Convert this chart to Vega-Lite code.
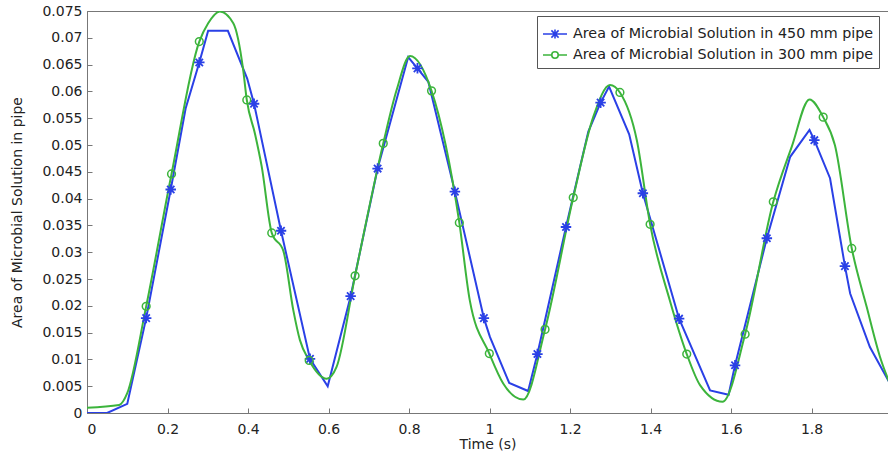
{
  "$schema": "https://vega.github.io/schema/vega-lite/v6.json",
  "width": 801,
  "height": 402,
  "autosize": {"type": "none"},
  "padding": {"left": 87, "top": 11, "right": 0, "bottom": 40},
  "background": "white",
  "config": {
    "view": {"stroke": "#777", "strokeWidth": 1},
    "font": "DejaVu Sans",
    "axis": {"labelFont": "DejaVu Sans", "titleFont": "DejaVu Sans", "labelFontSize": 14, "titleFontSize": 14, "titleFontWeight": "normal", "labelColor": "#222", "titleColor": "#222", "domainColor": "#777", "tickColor": "#777", "grid": false}
  },
  "datasets": {"curves": [
    {"s": "Area of Microbial Solution in 450 mm pipe", "t": 0, "v": 0, "m": false},
    {"s": "Area of Microbial Solution in 450 mm pipe", "t": 0.05, "v": 0, "m": false},
    {"s": "Area of Microbial Solution in 450 mm pipe", "t": 0.1, "v": 0.0017, "m": false},
    {"s": "Area of Microbial Solution in 450 mm pipe", "t": 0.147, "v": 0.0177, "m": true},
    {"s": "Area of Microbial Solution in 450 mm pipe", "t": 0.208, "v": 0.0417, "m": true},
    {"s": "Area of Microbial Solution in 450 mm pipe", "t": 0.245, "v": 0.0568, "m": false},
    {"s": "Area of Microbial Solution in 450 mm pipe", "t": 0.279, "v": 0.0654, "m": true},
    {"s": "Area of Microbial Solution in 450 mm pipe", "t": 0.301, "v": 0.0713, "m": false},
    {"s": "Area of Microbial Solution in 450 mm pipe", "t": 0.35, "v": 0.0713, "m": false},
    {"s": "Area of Microbial Solution in 450 mm pipe", "t": 0.398, "v": 0.0624, "m": false},
    {"s": "Area of Microbial Solution in 450 mm pipe", "t": 0.415, "v": 0.0577, "m": true},
    {"s": "Area of Microbial Solution in 450 mm pipe", "t": 0.482, "v": 0.034, "m": true},
    {"s": "Area of Microbial Solution in 450 mm pipe", "t": 0.554, "v": 0.0101, "m": true},
    {"s": "Area of Microbial Solution in 450 mm pipe", "t": 0.598, "v": 0.005, "m": false},
    {"s": "Area of Microbial Solution in 450 mm pipe", "t": 0.655, "v": 0.0218, "m": true},
    {"s": "Area of Microbial Solution in 450 mm pipe", "t": 0.722, "v": 0.0456, "m": true},
    {"s": "Area of Microbial Solution in 450 mm pipe", "t": 0.798, "v": 0.0664, "m": false},
    {"s": "Area of Microbial Solution in 450 mm pipe", "t": 0.821, "v": 0.0643, "m": true},
    {"s": "Area of Microbial Solution in 450 mm pipe", "t": 0.848, "v": 0.0618, "m": false},
    {"s": "Area of Microbial Solution in 450 mm pipe", "t": 0.914, "v": 0.0413, "m": true},
    {"s": "Area of Microbial Solution in 450 mm pipe", "t": 0.986, "v": 0.0177, "m": true},
    {"s": "Area of Microbial Solution in 450 mm pipe", "t": 1.001, "v": 0.0142, "m": false},
    {"s": "Area of Microbial Solution in 450 mm pipe", "t": 1.049, "v": 0.0056, "m": false},
    {"s": "Area of Microbial Solution in 450 mm pipe", "t": 1.096, "v": 0.0041, "m": false},
    {"s": "Area of Microbial Solution in 450 mm pipe", "t": 1.119, "v": 0.011, "m": true},
    {"s": "Area of Microbial Solution in 450 mm pipe", "t": 1.19, "v": 0.0347, "m": true},
    {"s": "Area of Microbial Solution in 450 mm pipe", "t": 1.2455, "v": 0.0525, "m": false},
    {"s": "Area of Microbial Solution in 450 mm pipe", "t": 1.276, "v": 0.0579, "m": true},
    {"s": "Area of Microbial Solution in 450 mm pipe", "t": 1.297, "v": 0.0609, "m": false},
    {"s": "Area of Microbial Solution in 450 mm pipe", "t": 1.347, "v": 0.052, "m": false},
    {"s": "Area of Microbial Solution in 450 mm pipe", "t": 1.381, "v": 0.041, "m": true},
    {"s": "Area of Microbial Solution in 450 mm pipe", "t": 1.471, "v": 0.0176, "m": true},
    {"s": "Area of Microbial Solution in 450 mm pipe", "t": 1.548, "v": 0.0042, "m": false},
    {"s": "Area of Microbial Solution in 450 mm pipe", "t": 1.594, "v": 0.0034, "m": false},
    {"s": "Area of Microbial Solution in 450 mm pipe", "t": 1.61, "v": 0.0089, "m": true},
    {"s": "Area of Microbial Solution in 450 mm pipe", "t": 1.689, "v": 0.0326, "m": true},
    {"s": "Area of Microbial Solution in 450 mm pipe", "t": 1.747, "v": 0.0478, "m": false},
    {"s": "Area of Microbial Solution in 450 mm pipe", "t": 1.795, "v": 0.0528, "m": false},
    {"s": "Area of Microbial Solution in 450 mm pipe", "t": 1.807, "v": 0.0509, "m": true},
    {"s": "Area of Microbial Solution in 450 mm pipe", "t": 1.846, "v": 0.0438, "m": false},
    {"s": "Area of Microbial Solution in 450 mm pipe", "t": 1.883, "v": 0.0274, "m": true},
    {"s": "Area of Microbial Solution in 450 mm pipe", "t": 1.896, "v": 0.0223, "m": false},
    {"s": "Area of Microbial Solution in 450 mm pipe", "t": 1.945, "v": 0.0123, "m": false},
    {"s": "Area of Microbial Solution in 450 mm pipe", "t": 2.0, "v": 0.0048, "m": false},
    {"s": "Area of Microbial Solution in 300 mm pipe", "t": 0, "v": 0.001, "m": false},
    {"s": "Area of Microbial Solution in 300 mm pipe", "t": 0.08, "v": 0.0015, "m": false},
    {"s": "Area of Microbial Solution in 300 mm pipe", "t": 0.1, "v": 0.0037, "m": false},
    {"s": "Area of Microbial Solution in 300 mm pipe", "t": 0.147, "v": 0.0199, "m": true},
    {"s": "Area of Microbial Solution in 300 mm pipe", "t": 0.21, "v": 0.0446, "m": true},
    {"s": "Area of Microbial Solution in 300 mm pipe", "t": 0.279, "v": 0.0693, "m": true},
    {"s": "Area of Microbial Solution in 300 mm pipe", "t": 0.301, "v": 0.0727, "m": false},
    {"s": "Area of Microbial Solution in 300 mm pipe", "t": 0.33, "v": 0.0749, "m": false},
    {"s": "Area of Microbial Solution in 300 mm pipe", "t": 0.3635, "v": 0.0727, "m": false},
    {"s": "Area of Microbial Solution in 300 mm pipe", "t": 0.388, "v": 0.064, "m": false},
    {"s": "Area of Microbial Solution in 300 mm pipe", "t": 0.397, "v": 0.0584, "m": true},
    {"s": "Area of Microbial Solution in 300 mm pipe", "t": 0.417, "v": 0.0522, "m": false},
    {"s": "Area of Microbial Solution in 300 mm pipe", "t": 0.434, "v": 0.046, "m": false},
    {"s": "Area of Microbial Solution in 300 mm pipe", "t": 0.459, "v": 0.0336, "m": true},
    {"s": "Area of Microbial Solution in 300 mm pipe", "t": 0.488, "v": 0.0302, "m": false},
    {"s": "Area of Microbial Solution in 300 mm pipe", "t": 0.5125, "v": 0.0192, "m": false},
    {"s": "Area of Microbial Solution in 300 mm pipe", "t": 0.529, "v": 0.0136, "m": false},
    {"s": "Area of Microbial Solution in 300 mm pipe", "t": 0.552, "v": 0.0098, "m": true},
    {"s": "Area of Microbial Solution in 300 mm pipe", "t": 0.5955, "v": 0.0064, "m": false},
    {"s": "Area of Microbial Solution in 300 mm pipe", "t": 0.62, "v": 0.0086, "m": false},
    {"s": "Area of Microbial Solution in 300 mm pipe", "t": 0.666, "v": 0.0256, "m": true},
    {"s": "Area of Microbial Solution in 300 mm pipe", "t": 0.736, "v": 0.0503, "m": true},
    {"s": "Area of Microbial Solution in 300 mm pipe", "t": 0.769, "v": 0.0602, "m": false},
    {"s": "Area of Microbial Solution in 300 mm pipe", "t": 0.8025, "v": 0.0666, "m": false},
    {"s": "Area of Microbial Solution in 300 mm pipe", "t": 0.856, "v": 0.0601, "m": true},
    {"s": "Area of Microbial Solution in 300 mm pipe", "t": 0.925, "v": 0.0355, "m": true},
    {"s": "Area of Microbial Solution in 300 mm pipe", "t": 0.951, "v": 0.021, "m": false},
    {"s": "Area of Microbial Solution in 300 mm pipe", "t": 0.9995, "v": 0.0111, "m": true},
    {"s": "Area of Microbial Solution in 300 mm pipe", "t": 1.034, "v": 0.0055, "m": false},
    {"s": "Area of Microbial Solution in 300 mm pipe", "t": 1.084, "v": 0.0025, "m": false},
    {"s": "Area of Microbial Solution in 300 mm pipe", "t": 1.138, "v": 0.0156, "m": true},
    {"s": "Area of Microbial Solution in 300 mm pipe", "t": 1.208, "v": 0.0402, "m": true},
    {"s": "Area of Microbial Solution in 300 mm pipe", "t": 1.258, "v": 0.0553, "m": false},
    {"s": "Area of Microbial Solution in 300 mm pipe", "t": 1.2994, "v": 0.0612, "m": false},
    {"s": "Area of Microbial Solution in 300 mm pipe", "t": 1.324, "v": 0.0598, "m": true},
    {"s": "Area of Microbial Solution in 300 mm pipe", "t": 1.366, "v": 0.0509, "m": false},
    {"s": "Area of Microbial Solution in 300 mm pipe", "t": 1.399, "v": 0.0352, "m": true},
    {"s": "Area of Microbial Solution in 300 mm pipe", "t": 1.448, "v": 0.021, "m": false},
    {"s": "Area of Microbial Solution in 300 mm pipe", "t": 1.49, "v": 0.011, "m": true},
    {"s": "Area of Microbial Solution in 300 mm pipe", "t": 1.523, "v": 0.0052, "m": false},
    {"s": "Area of Microbial Solution in 300 mm pipe", "t": 1.579, "v": 0.0021, "m": false},
    {"s": "Area of Microbial Solution in 300 mm pipe", "t": 1.635, "v": 0.0147, "m": true},
    {"s": "Area of Microbial Solution in 300 mm pipe", "t": 1.705, "v": 0.0394, "m": true},
    {"s": "Area of Microbial Solution in 300 mm pipe", "t": 1.751, "v": 0.0497, "m": false},
    {"s": "Area of Microbial Solution in 300 mm pipe", "t": 1.795, "v": 0.0585, "m": false},
    {"s": "Area of Microbial Solution in 300 mm pipe", "t": 1.829, "v": 0.0552, "m": true},
    {"s": "Area of Microbial Solution in 300 mm pipe", "t": 1.858, "v": 0.05, "m": false},
    {"s": "Area of Microbial Solution in 300 mm pipe", "t": 1.9, "v": 0.0307, "m": true},
    {"s": "Area of Microbial Solution in 300 mm pipe", "t": 1.937, "v": 0.0198, "m": false},
    {"s": "Area of Microbial Solution in 300 mm pipe", "t": 1.97, "v": 0.0105, "m": false},
    {"s": "Area of Microbial Solution in 300 mm pipe", "t": 2.0, "v": 0.0045, "m": false}
  ]},
  "data": {"name": "curves"},
  "encoding": {
    "x": {"field": "t", "type": "quantitative", "scale": {"domain": [0, 1.99], "nice": false, "zero": false},
      "axis": {"title": "Time (s)", "values": [0, 0.2, 0.4, 0.6, 0.8, 1, 1.2, 1.4, 1.6, 1.8], "format": "~g", "tickSize": -5, "labelPadding": 14, "titlePadding": 1}},
    "y": {"field": "v", "type": "quantitative", "scale": {"domain": [0, 0.075], "nice": false},
      "axis": {"title": "Area of Microbial Solution in pipe", "values": [0, 0.005, 0.01, 0.015, 0.02, 0.025, 0.03, 0.035, 0.04, 0.045, 0.05, 0.055, 0.06, 0.065, 0.07, 0.075], "format": "~g", "tickSize": -5, "labelPadding": 10, "titlePadding": 17}},
    "color": {"field": "s", "type": "nominal",
      "scale": {"domain": ["Area of Microbial Solution in 450 mm pipe", "Area of Microbial Solution in 300 mm pipe"], "range": ["#2a40e6", "#3cb43c"]},
      "legend": {"title": null, "orient": "none", "legendX": 450, "legendY": 5, "fillColor": "white", "strokeColor": "#555", "padding": 5,
        "labelFont": "DejaVu Sans", "labelFontSize": 14.3, "labelColor": "#222", "labelLimit": 400, "symbolSize": 576, "labelOffset": 5, "rowPadding": -3, "symbolStrokeWidth": 1.6, "symbolOpacity": 1}}
  },
  "layer": [
    {"transform": [{"filter": "datum.s === 'Area of Microbial Solution in 450 mm pipe'"}],
     "mark": {"type": "line", "interpolate": "linear", "strokeWidth": 2, "clip": true}},
    {"transform": [{"filter": "datum.s === 'Area of Microbial Solution in 300 mm pipe'"}],
     "mark": {"type": "line", "interpolate": "monotone", "strokeWidth": 2, "clip": true}},
    {"transform": [{"filter": "datum.m && datum.s === 'Area of Microbial Solution in 450 mm pipe'"}],
     "mark": {"type": "point", "filled": false, "strokeWidth": 1.8, "size": 110, "opacity": 1, "clip": true, "shape": "M-1,0H1M0,-1V1M-0.7,-0.7L0.7,0.7M-0.7,0.7L0.7,-0.7"}},
    {"transform": [{"filter": "datum.m && datum.s === 'Area of Microbial Solution in 300 mm pipe'"}],
     "mark": {"type": "point", "filled": false, "strokeWidth": 1.5, "size": 60, "opacity": 1, "clip": true, "shape": "circle"}},
    {"transform": [{"filter": "datum.t === 0"}],
     "mark": {"type": "point", "filled": false, "opacity": 0, "size": 576, "clip": true},
     "encoding": {
       "shape": {"field": "s", "type": "nominal",
         "scale": {"domain": ["Area of Microbial Solution in 450 mm pipe", "Area of Microbial Solution in 300 mm pipe"],
           "range": ["M-1,0H1M0,-0.38V0.38M-0.3,-0.3L0.3,0.3M-0.3,0.3L0.3,-0.3", "M-1,0H-0.27M0.27,0H1M0.27,0A0.27,0.27 0 1 1 -0.27,0A0.27,0.27 0 1 1 0.27,0"]},
         "legend": null}}}
  ]
}
